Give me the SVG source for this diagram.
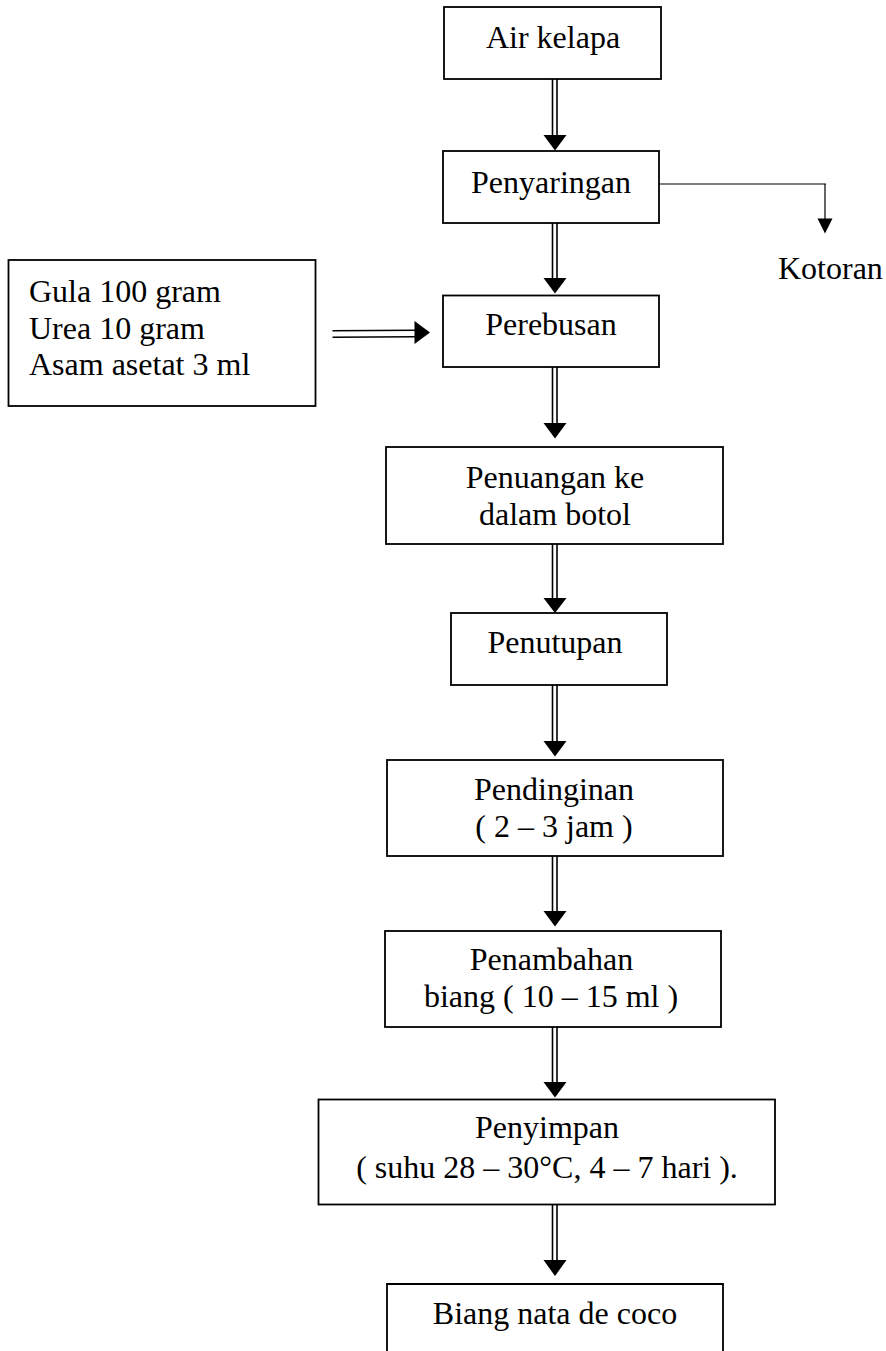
<svg xmlns="http://www.w3.org/2000/svg" width="886" height="1351" viewBox="0 0 886 1351">
<style>
.box{fill:#fff;stroke:#000;stroke-width:1.8}
.t{font-family:"Liberation Serif","Times New Roman",serif;font-size:32px;fill:#000}
.c{text-anchor:middle}
.dl{stroke:#000;stroke-width:1.6;fill:none}
.sl{stroke:#000;stroke-width:1.2;fill:none}
.hd{fill:#000;stroke:none}
</style>
<rect width="886" height="1351" fill="#fff"/>
<g id="connectors">
  <!-- vertical double arrows -->
  <g id="a1"><path class="dl" d="M552.5 79V136M557 79V136"/><path class="hd" d="M543.5 135H566.5L555 150.5Z"/></g>
  <g id="a2"><path class="dl" d="M552.5 223V279M557 223V279"/><path class="hd" d="M543.5 278H566.5L555 293.5Z"/></g>
  <g id="a3"><path class="dl" d="M552.5 367V424M557 367V424"/><path class="hd" d="M543.5 423H566.5L555 438.5Z"/></g>
  <g id="a4"><path class="dl" d="M552.5 544V599M557 544V599"/><path class="hd" d="M543.5 598H566.5L555 613Z"/></g>
  <g id="a5"><path class="dl" d="M552.5 685V742M557 685V742"/><path class="hd" d="M543.5 741H566.5L555 756.5Z"/></g>
  <g id="a6"><path class="dl" d="M552.5 856V912M557 856V912"/><path class="hd" d="M543.5 911H566.5L555 926.5Z"/></g>
  <g id="a7"><path class="dl" d="M552.5 1027V1083M557 1027V1083"/><path class="hd" d="M543.5 1082H566.5L555 1097.5Z"/></g>
  <g id="a8"><path class="dl" d="M552.5 1204V1261M557 1204V1261"/><path class="hd" d="M543.5 1260H566.5L555 1276Z"/></g>
  <!-- horizontal double arrow -->
  <g id="ah"><path class="dl" d="M332.5 330.8L415 330.3M332.5 337.2L415 336.8"/><path class="hd" d="M414.5 321V344L430 332.5Z"/></g>
  <!-- waste branch -->
  <g id="aw"><path class="sl" d="M659 184H826M825 184V219"/><path class="hd" d="M817.5 218.5H832.5L825 233.5Z"/></g>
</g>
<g id="n-air"><rect class="box" x="444" y="7" width="217" height="72"/><text class="t c" x="553" y="48">Air kelapa</text></g>
<g id="n-penyaringan"><rect class="box" x="443" y="151" width="216" height="72"/><text class="t c" x="551" y="193">Penyaringan</text></g>
<g id="n-kotoran"><text class="t" x="778" y="279">Kotoran</text></g>
<g id="n-bahan"><rect class="box" x="8.5" y="260" width="307" height="146"/><text class="t" x="29" y="302">Gula 100 gram</text><text class="t" x="29" y="338.5">Urea 10 gram</text><text class="t" x="29" y="375">Asam asetat 3 ml</text></g>
<g id="n-perebusan"><rect class="box" x="443" y="295.5" width="216" height="71.5"/><text class="t c" x="551" y="335">Perebusan</text></g>
<g id="n-penuangan"><rect class="box" x="386" y="447" width="337" height="97"/><text class="t c" x="555" y="488">Penuangan ke</text><text class="t c" x="555" y="525">dalam botol</text></g>
<g id="n-penutupan"><rect class="box" x="451" y="613" width="216" height="72"/><text class="t c" x="555" y="653">Penutupan</text></g>
<g id="n-pendinginan"><rect class="box" x="387" y="760" width="336" height="96"/><text class="t c" x="554" y="800">Pendinginan</text><text class="t c" x="554" y="837">( 2 – 3 jam )</text></g>
<g id="n-penambahan"><rect class="box" x="385" y="931" width="336" height="96"/><text class="t c" x="551.5" y="970">Penambahan</text><text class="t c" x="551" y="1007">biang ( 10 – 15 ml )</text></g>
<g id="n-penyimpan"><rect class="box" x="318.5" y="1099.5" width="456.5" height="105"/><text class="t c" x="547" y="1138">Penyimpan</text><text class="t c" x="547" y="1178">( suhu 28 – 30°C, 4 – 7 hari ).</text></g>
<g id="n-biang"><path class="box" d="M387 1352V1284H723V1352"/><text class="t c" x="555" y="1324">Biang nata de coco</text></g>
</svg>
